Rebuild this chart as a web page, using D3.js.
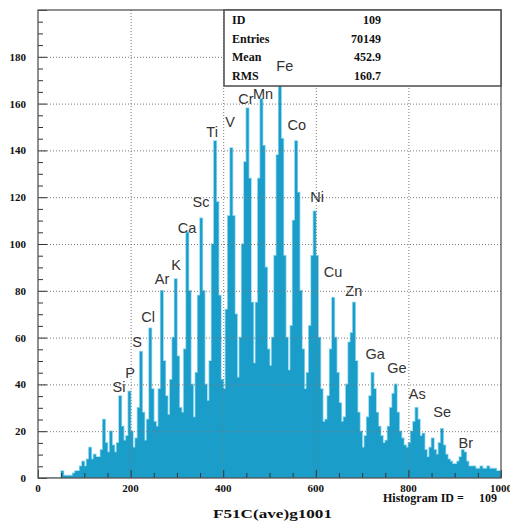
<html>
<head>
  <meta charset="utf-8">
  <title>F51C(ave)g1001</title>
  <script src="https://d3js.org/d3.v7.min.js"></script>
  <style>
    body {
      margin: 0;
      padding: 0;
      background: #fff;
    }
    .num {
      font-family: "Liberation Serif", "Times New Roman", serif;
      font-weight: bold;
      fill: #111;
    }
    .elem {
      font-family: "Liberation Sans", Arial, sans-serif;
      font-size: 14.5px;
      fill: #333;
      text-anchor: middle;
    }
    .grid line {
      stroke: #7a7a7a;
      stroke-dasharray: 1, 2;
    }
  </style>
</head>
<body>
<script>

// histogram contents, one value per 5-channel bin (0..1000)
var binWidth = 5;
var counts = [
  0, 0, 0, 0, 0, 0, 0, 0, 0, 0, 3, 1, 1, 1, 1, 2, 3, 3, 5, 7,
  5, 8, 13, 8, 10, 9, 9, 12, 25, 15, 11, 20, 14, 11, 15, 35, 22, 16, 18, 37,
  20, 13, 17, 30, 54, 28, 16, 25, 64, 38, 24, 22, 38, 80, 50, 35, 27, 42, 60, 85,
  52, 30, 28, 55, 105, 80, 40, 26, 45, 78, 111, 80, 40, 33, 50, 100, 144, 118, 78, 42,
  38, 72, 112, 141, 112, 70, 43, 60, 100, 135, 158, 128, 75, 49, 75, 128, 162, 142, 90, 55,
  48, 60, 95, 138, 178, 145, 95, 60, 46, 65, 110, 144, 122, 80, 55, 38, 45, 65, 95, 114,
  95, 60, 38, 24, 25, 35, 55, 77, 60, 45, 32, 24, 26, 40, 58, 62, 75, 50, 28, 20,
  13, 18, 26, 35, 45, 38, 28, 22, 18, 15, 16, 22, 30, 36, 40, 28, 20, 17, 14, 13,
  15, 20, 24, 30, 25, 18, 19, 12, 9, 13, 17, 12, 10, 15, 21, 14, 10, 8, 7, 6,
  6, 7, 9, 12, 11, 7, 5, 5, 5, 4, 4, 5, 4, 4, 5, 4, 4, 4, 3, 3
];

// element labels: name, channel, count where the label sits
var elements = ["Si", "P", "S", "Cl", "Ar", "K", "Ca", "Sc", "Ti", "V", "Cr",
  "Mn", "Fe", "Co", "Ni", "Cu", "Zn", "Ga", "Ge", "As", "Se", "Br"];
var elemChannel = [175, 199, 214, 238, 268, 298, 322, 352, 376, 415, 449,
  486, 533, 559, 603, 637, 682, 728, 775, 819, 873, 924];
var elemCount = [39, 45, 58, 69, 85, 91, 107, 118, 148, 152, 162,
  164, 176, 151, 120, 88, 80, 53, 47, 36, 28, 15];

var xTicks = [0, 200, 400, 600, 800, 1000];
var yTicks = [0, 20, 40, 60, 80, 100, 120, 140, 160, 180];

var statNames = ["ID", "Entries", "Mean", "RMS"];
var statValues = ["109", "70149", "452.9", "160.7"];

var W = 510, H = 521;
var padL = 38, padR = 501, padT = 10, padB = 478;

var svg = d3.select("body").append("svg")
    .attr("width", W)
    .attr("height", H);

var x = d3.scaleLinear().domain([0, 1000]).range([padL, padR]);
var y = d3.scaleLinear().domain([0, 200]).range([padB, padT]);

svg.append("clipPath").attr("id", "frame")
  .append("rect")
    .attr("x", padL).attr("y", padT)
    .attr("width", padR - padL).attr("height", padB - padT);

var bins = counts.map(function(c, i) { return { x0: i * binWidth, c: c }; });
bins.push({ x0: 1000, c: counts[counts.length - 1] });

var plot = svg.append("g").attr("clip-path", "url(#frame)");

// light halo round the bins, like the reference
plot.append("path")
    .datum(bins)
    .attr("fill", "none")
    .attr("stroke", "#8fd8f0")
    .attr("stroke-width", 1.6)
    .attr("d", d3.line()
      .x(function(d) { return x(d.x0); })
      .y(function(d) { return y(d.c); })
      .curve(d3.curveStepAfter));

plot.append("path")
    .datum(bins)
    .attr("fill", "#1b9dca")
    .attr("d", d3.area()
      .x(function(d) { return x(d.x0); })
      .y0(y(0))
      .y1(function(d) { return y(d.c); })
      .curve(d3.curveStepAfter));

// dotted grid
var grid = svg.append("g").attr("class", "grid");
grid.selectAll(".gx")
    .data(xTicks.slice(1, -1))
  .enter().append("line")
    .attr("x1", function(d) { return x(d) + 0.5; })
    .attr("x2", function(d) { return x(d) + 0.5; })
    .attr("y1", padT).attr("y2", padB);
grid.selectAll(".gy")
    .data(yTicks.slice(1))
  .enter().append("line")
    .attr("y1", function(d) { return y(d) + 0.5; })
    .attr("y2", function(d) { return y(d) + 0.5; })
    .attr("x1", padL).attr("x2", padR);

// ticks pointing into the frame
var yAxis = d3.axisRight(y)
    .tickValues(d3.range(0, 201, 5))
    .tickSize(0)
    .tickFormat("");
var ya = svg.append("g").attr("transform", "translate(" + padL + ",0)").call(yAxis);
ya.select(".domain").remove();
ya.selectAll(".tick line")
    .attr("x2", function(d) { return d % 20 === 0 ? 9 : 5; })
    .attr("stroke", "#333");

var xAxis = d3.axisTop(x)
    .tickValues(d3.range(0, 1001, 50))
    .tickSize(0)
    .tickFormat("");
var xa = svg.append("g").attr("transform", "translate(0," + padB + ")").call(xAxis);
xa.select(".domain").remove();
xa.selectAll(".tick line")
    .attr("y2", function(d) { return d % 200 === 0 ? -8 : -5; })
    .attr("stroke", "#333");

// frame
svg.append("rect")
    .attr("x", padL).attr("y", padT)
    .attr("width", padR - padL).attr("height", padB - padT)
    .attr("fill", "none")
    .attr("stroke", "#555")
    .attr("stroke-width", 1.3);

// tick labels
svg.selectAll(".ylab")
    .data(yTicks)
  .enter().append("text")
    .attr("class", "num")
    .attr("font-size", 11)
    .attr("text-anchor", "end")
    .attr("x", 26)
    .attr("y", function(d) { return y(d) + 4; })
    .text(function(d) { return d; });

svg.selectAll(".xlab")
    .data(xTicks)
  .enter().append("text")
    .attr("class", "num")
    .attr("font-size", 11)
    .attr("text-anchor", "middle")
    .attr("x", function(d) { return x(d); })
    .attr("y", 492)
    .text(function(d) { return d; });

// stats box
var box = svg.append("g");
box.append("rect")
    .attr("x", 224).attr("y", padT)
    .attr("width", padR - 224).attr("height", 86 - padT)
    .attr("fill", "#fff")
    .attr("stroke", "#555")
    .attr("stroke-width", 1.6);
box.selectAll(".sn")
    .data(statNames)
  .enter().append("text")
    .attr("class", "num")
    .attr("font-size", 12)
    .attr("x", 232)
    .attr("y", function(d, i) { return 24 + i * 18.7; })
    .text(function(d) { return d; });
box.selectAll(".sv")
    .data(statValues)
  .enter().append("text")
    .attr("class", "num")
    .attr("font-size", 12)
    .attr("text-anchor", "end")
    .attr("x", 381)
    .attr("y", function(d, i) { return 24 + i * 18.7; })
    .text(function(d) { return d; });

// element names
svg.selectAll(".elem")
    .data(elements)
  .enter().append("text")
    .attr("class", "elem")
    .attr("x", function(d, i) { return x(elemChannel[i]); })
    .attr("y", function(d, i) { return y(elemCount[i]) + 5; })
    .text(function(d) { return d; });

svg.append("text")
    .attr("class", "num")
    .attr("font-size", 12)
    .attr("x", 383)
    .attr("y", 502)
    .text("Histogram ID =");
svg.append("text")
    .attr("class", "num")
    .attr("font-size", 12)
    .attr("text-anchor", "end")
    .attr("x", 497)
    .attr("y", 502)
    .text("109");

svg.append("text")
    .attr("class", "num")
    .attr("font-size", 12)
    .attr("x", 213)
    .attr("y", 518)
    .attr("textLength", 119)
    .attr("lengthAdjust", "spacingAndGlyphs")
    .text("F51C(ave)g1001");

</script>
</body>
</html>
